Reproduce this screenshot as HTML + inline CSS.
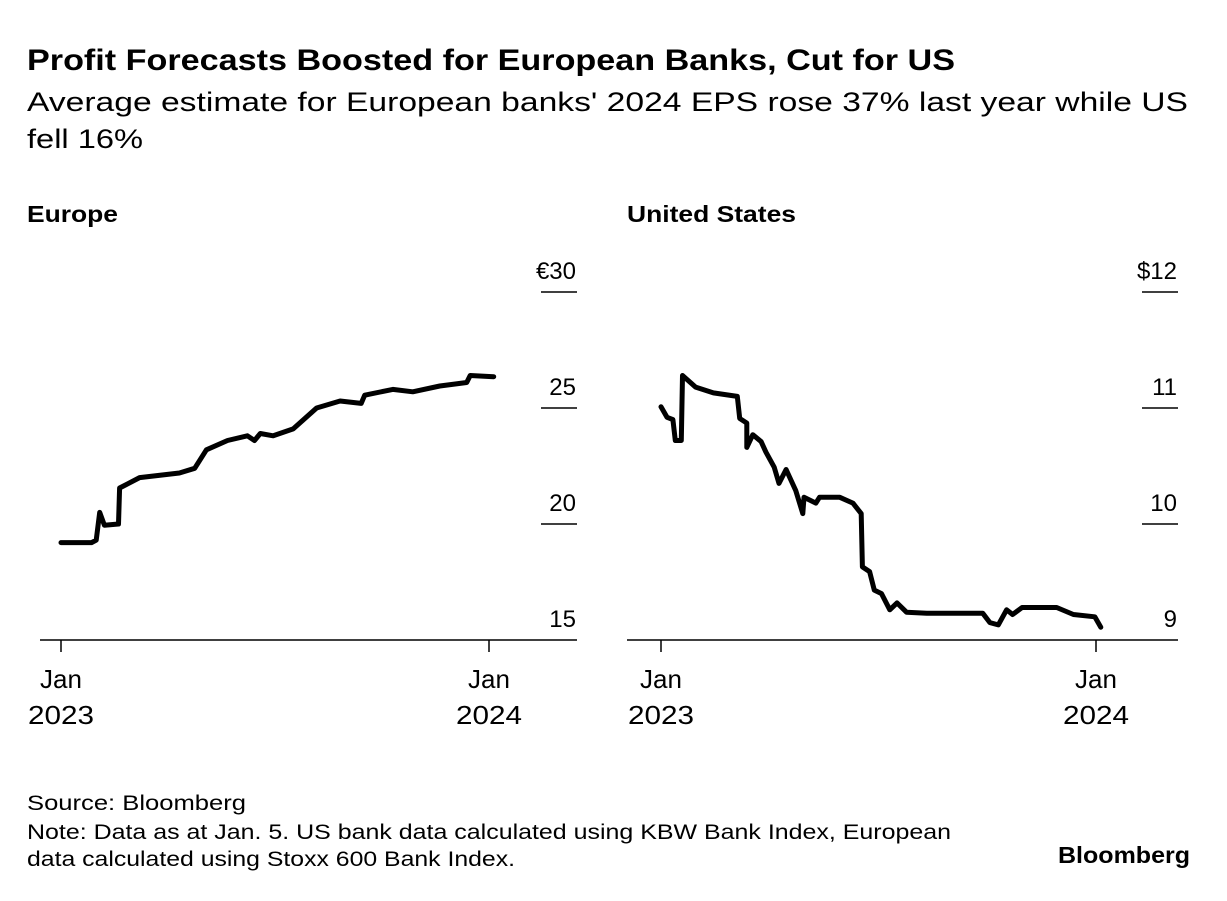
<!DOCTYPE html>
<html><head><meta charset="utf-8"><style>
body{margin:0;background:#fff;width:1227px;height:896px;overflow:hidden;font-family:"Liberation Sans",sans-serif;color:#000}
</style></head><body>
<svg width="1227" height="896" xmlns="http://www.w3.org/2000/svg" font-family="Liberation Sans, sans-serif">
<text x="27" y="70" font-size="30" font-weight="bold" textLength="928" lengthAdjust="spacingAndGlyphs">Profit Forecasts Boosted for European Banks, Cut for US</text>
<text x="27" y="111" font-size="27" textLength="1161" lengthAdjust="spacingAndGlyphs">Average estimate for European banks' 2024 EPS rose 37% last year while US</text>
<text x="27" y="148" font-size="27" textLength="116" lengthAdjust="spacingAndGlyphs">fell 16%</text>
<text x="27" y="222" font-size="23" font-weight="bold" textLength="91" lengthAdjust="spacingAndGlyphs">Europe</text>
<text x="627" y="222" font-size="23" font-weight="bold" textLength="169" lengthAdjust="spacingAndGlyphs">United States</text>
<g id="eu"></g>
<g id="us"></g>
<text x="27" y="810" font-size="21" textLength="219" lengthAdjust="spacingAndGlyphs">Source: Bloomberg</text>
<text x="27" y="839" font-size="21" textLength="924" lengthAdjust="spacingAndGlyphs">Note: Data as at Jan. 5. US bank data calculated using KBW Bank Index, European</text>
<text x="27" y="866" font-size="21" textLength="488" lengthAdjust="spacingAndGlyphs">data calculated using Stoxx 600 Bank Index.</text>
<text x="1190" y="863" font-size="23" font-weight="bold" text-anchor="end" textLength="132" lengthAdjust="spacingAndGlyphs">Bloomberg</text>
</svg>
<script>
const euDays=[0,26,30,33,37,49,50,67,101,114,124,142,159,165,170,181,198,218,238,256,259,283,300,323,346,349,369];
const euValues=[19.2,19.2,19.3,20.5,19.95,20.0,21.55,22.0,22.2,22.4,23.2,23.6,23.8,23.6,23.9,23.8,24.1,25.0,25.3,25.2,25.55,25.8,25.7,25.95,26.1,26.4,26.35];
const euTicks=[15,20,25,30];
const euTickLabels=["15","20","25","€30"];
const usDays=[0,5,10,12,17,18,29,44,64,66,72,72,77,84,88,95,99,105,113,119,120,130,133,150,161,168,169,175,179,185,192,198,206,223,256,270,276,283,290,295,303,332,346,364,369];
const usValues=[11.01,10.92,10.9,10.72,10.72,11.28,11.18,11.13,11.1,10.91,10.87,10.66,10.77,10.71,10.62,10.49,10.35,10.47,10.29,10.09,10.23,10.18,10.23,10.23,10.18,10.09,9.63,9.59,9.43,9.4,9.26,9.32,9.24,9.23,9.23,9.23,9.15,9.13,9.26,9.22,9.28,9.28,9.22,9.2,9.11];
const usTicks=[9,10,11,12];
const usTickLabels=["9","10","11","$12"];
const NS="http://www.w3.org/2000/svg";
function mk(g,t,a){const e=document.createElementNS(NS,t);for(const k in a)e.setAttribute(k,a[k]);g.appendChild(e);return e;}
function panel(id,x0,x1,xJan23,xJan24,vmin,vmax,ticks,labels,days,vals){
 const g=document.getElementById(id);
 const yTop=292,yBot=640;
 const ys=v=>yBot-(v-vmin)/(vmax-vmin)*(yBot-yTop);
 const xs=d=>xJan23+d/365*(xJan24-xJan23);
 ticks.forEach((t,i)=>{
  const y=ys(t);
  if(i>0){const l=mk(g,'line',{x1:x1-36,x2:x1,y1:y,y2:y,stroke:'#000','stroke-width':1.5});
  
  }
  const tx=mk(g,'text',{x:x1-1,y:y-13,'font-size':24,'text-anchor':'end'});tx.textContent=labels[i];
  
  
 });
 const ax=mk(g,'line',{x1:x0,x2:x1,y1:yBot,y2:yBot,stroke:'#000','stroke-width':1.5});
 
 
 [[xJan23,'2023'],[xJan24,'2024']].forEach(([x,yr])=>{
  const tk=mk(g,'line',{x1:x,x2:x,y1:yBot,y2:yBot+12,stroke:'#000','stroke-width':1.5});
  
  
  const a=mk(g,'text',{x:x,y:688,'font-size':26,'text-anchor':'middle'});a.textContent='Jan';
  
  
  const b=mk(g,'text',{x:x,y:724,'font-size':26,'text-anchor':'middle',textLength:66,lengthAdjust:'spacingAndGlyphs'});b.textContent=yr;
  
  
 });
 const d=days.map((v,i)=>(i?'L':'M')+xs(v).toFixed(1)+','+ys(vals[i]).toFixed(1)).join('');
 const p=mk(g,'path',{d:d,fill:'none',stroke:'#000','stroke-width':5,'stroke-linejoin':'round','stroke-linecap':'round'});
 
 
}
panel('eu',40,577,61,489,15,30,euTicks,euTickLabels,euDays,euValues);
panel('us',627,1178,661,1096,9,12,usTicks,usTickLabels,usDays,usValues);
</script>
</body></html>
